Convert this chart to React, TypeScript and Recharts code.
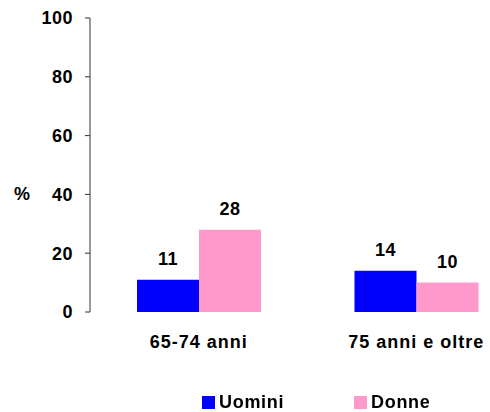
import { Bar, BarChart, LabelList, Legend, XAxis, YAxis } from 'recharts';

const categories = ['65-74 anni', '75 anni e oltre'];
const uomini = [11, 14];
const donne = [28, 10];
const yTicks = [0, 20, 40, 60, 80, 100];
const seriesOrder = ['Uomini', 'Donne'];

const data = categories.map((cat, i) => ({ cat, uomini: uomini[i], donne: donne[i] }));

const font = { fontFamily: 'Arial, "Liberation Sans", sans-serif', fontWeight: 700, fontSize: 18, fill: '#000' };

function PercentLabel({ viewBox }: any) {
  return (
    <text x={viewBox.x + 14} y={viewBox.y + viewBox.height * 0.6} dominantBaseline="central" {...font}>
      %
    </text>
  );
}

function LegendBox({ payload }: any) {
  const items = seriesOrder.map((n) => (payload || []).find((p: any) => p.value === n)).filter(Boolean);
  return (
    <div style={{ display: 'flex', height: 20, lineHeight: '20px', fontFamily: font.fontFamily, fontWeight: 700, fontSize: 18 }}>
      {items.map((p: any) => (
        <div key={p.value} style={{ width: 152, display: 'flex', alignItems: 'center' }}>
          <span style={{ width: 13, height: 13, background: p.color, marginRight: 4, display: 'inline-block' }} />
          <span style={{ letterSpacing: 0.7 }}>{p.value}</span>
        </div>
      ))}
    </div>
  );
}

export default function App() {
  return (
    <div style={{ position: 'fixed', left: 0, top: 0, background: '#fff' }}>
      <BarChart width={490} height={412} data={data} margin={{ top: 18, right: 0, bottom: 0, left: 0 }} barCategoryGap={47} barGap={0}>
        <YAxis
          domain={[0, 100]}
          ticks={yTicks}
          width={90}
          tickSize={5}
          tickMargin={12}
          stroke="#333"
          tick={{ ...font, letterSpacing: 0.5 }}
          label={<PercentLabel />}
        />
        <XAxis
          dataKey="cat"
          axisLine={false}
          tickLine={false}
          tickSize={0}
          tickMargin={23}
          height={80}
          padding={{ left: 0, right: -35 }}
          tick={{ ...font, letterSpacing: 1 }}
        />
        <Legend verticalAlign="bottom" height={20} wrapperStyle={{ left: 202, width: 320, bottom: 0 }} content={<LegendBox />} />
        <Bar dataKey="uomini" name="Uomini" fill="#0000FF" isAnimationActive={false}>
          <LabelList dataKey="uomini" position="top" offset={15} style={{ ...font, letterSpacing: 0.5 }} />
        </Bar>
        <Bar dataKey="donne" name="Donne" fill="#FF99CC" isAnimationActive={false}>
          <LabelList dataKey="donne" position="top" offset={15} style={{ ...font, letterSpacing: 0.5 }} />
        </Bar>
      </BarChart>
    </div>
  );
}
